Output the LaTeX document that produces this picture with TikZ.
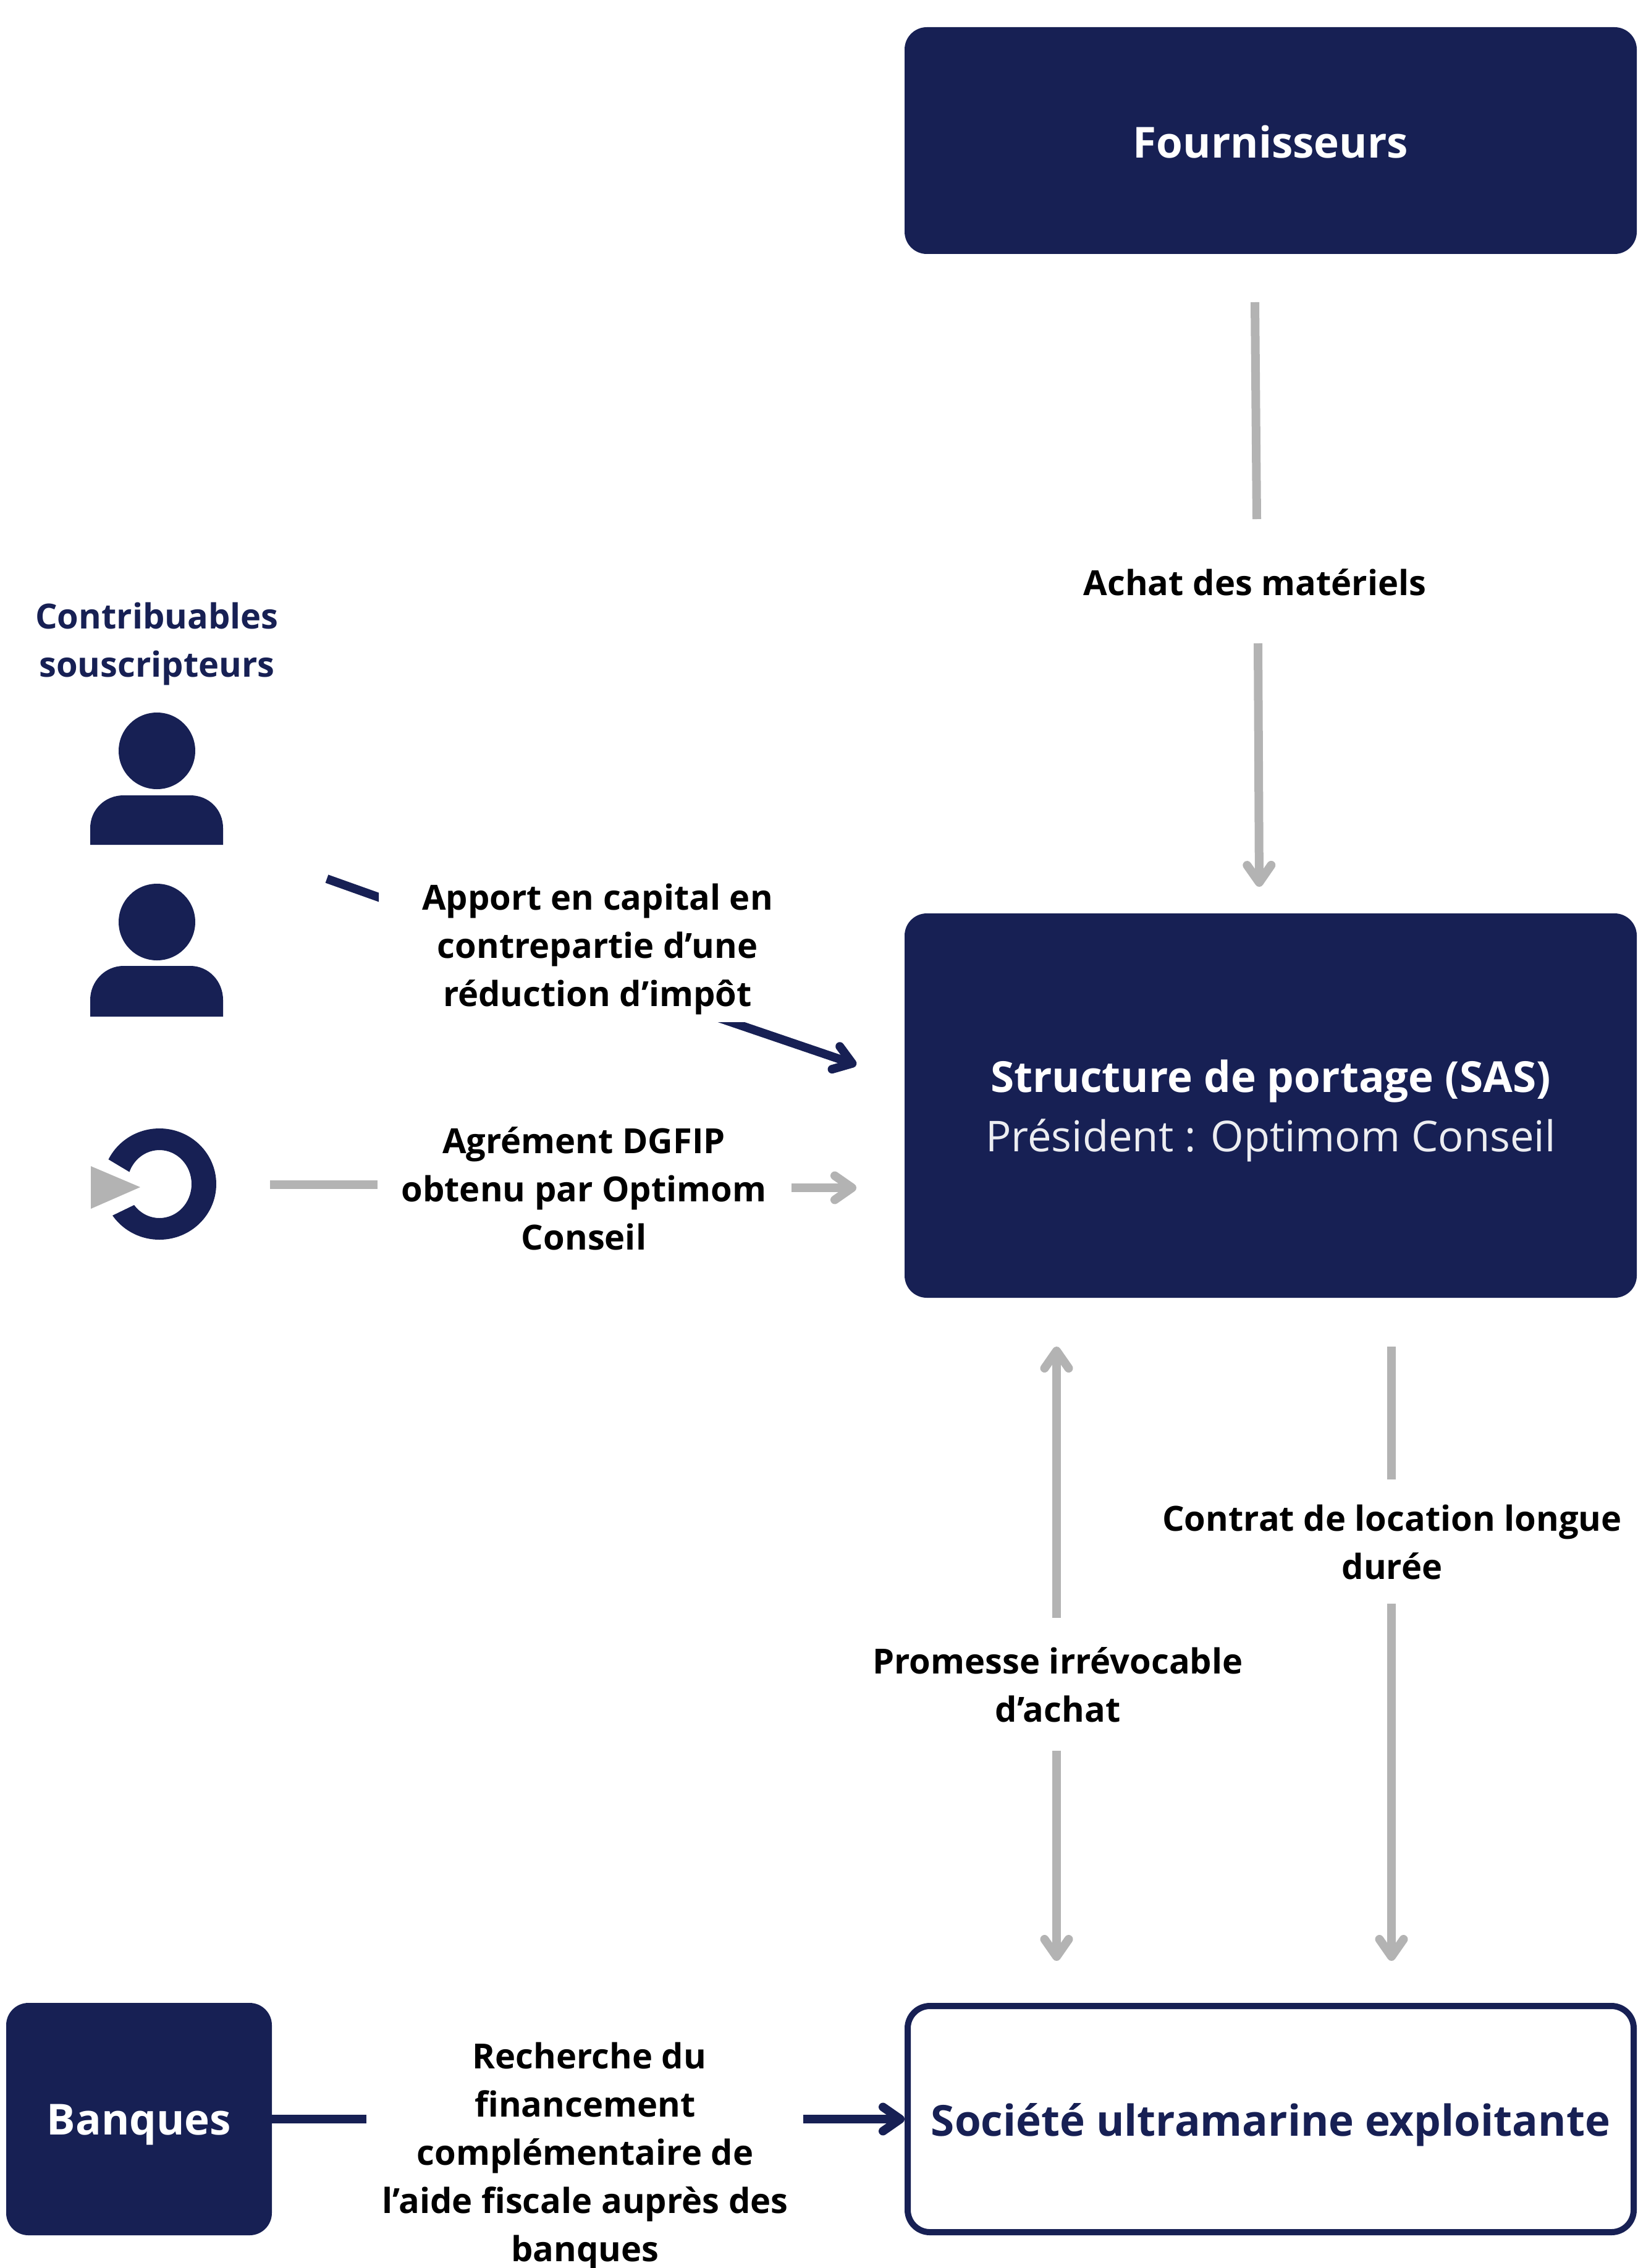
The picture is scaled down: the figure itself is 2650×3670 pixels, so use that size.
\documentclass[tikz,border=0pt]{standalone}
\usepackage{fontspec}
\setmainfont{Open Sans}
\usetikzlibrary{arrows.meta}
\definecolor{navy}{HTML}{172054}
\definecolor{greyline}{HTML}{B3B3B3}
\newcommand{\lowertext}[2]{\raisebox{-#1}[\height][\depth]{#2}}
\tikzset{
  x=0.5pt,y=-0.5pt,
  navybox/.style={fill=navy,draw=none,rounded corners=18pt,text=white,align=center,font=\bfseries\fontsize{34.6}{48}\selectfont,inner sep=0pt},
  whitebox/.style={fill=white,draw=navy,line width=5pt,rounded corners=18pt,text=navy,align=center,font=\bfseries\fontsize{34.6}{48}\selectfont,inner sep=0pt},
  lbl/.style={align=center,text=black,font=\bfseries\fontsize{28}{39}\selectfont,inner sep=0pt},
  greyseg/.style={draw=greyline,line width=7pt},
  navyseg/.style={draw=navy,line width=7pt},
  greytip/.style={-{Straight Barb[length=14pt,width=19.5pt,round]}},
  glyph/.style={fill=navy,draw=none},
}
\begin{document}
\begin{tikzpicture}
\useasboundingbox (0,0) rectangle (2650,3670);
% boxes
\node[navybox,minimum width=592.5pt,minimum height=183.5pt] (fourn) at (2056.5,227.5) {\lowertext{1.2pt}{Fournisseurs}};
\node[navybox,minimum width=592.5pt,minimum height=311pt] (sas) at (2056.5,1789)
  {\lowertext{4pt}{Structure de portage (SAS)}\\[0pt]\lowertext{4pt}{\mdseries\fontsize{34.4}{48}\selectfont\color{white!92!navy}Président : Optimom Conseil}};
\node[whitebox,minimum width=587.5pt,minimum height=183pt] (soc) at (2056.5,3429) {\lowertext{4.5pt}{Société ultramarine exploitante}};
\node[navybox,minimum width=215pt,minimum height=188pt] (bq) at (225,3429) {\lowertext{4.5pt}{Banques}};
% labels
\node[lbl,text=navy] (contrib) at (254,1042) {Contribuables\\souscripteurs};
\node[lbl] (apport) at (967,1536) {Apport en capital en\\contrepartie d’une\\réduction d’impôt};
\node[lbl] (agrement) at (945,1923) {Agrément DGFIP\\obtenu par Optimom\\Conseil};
\node[lbl] (achat) at (2031,942) {Achat des matériels};
\node[lbl] (contrat) at (2253,2495) {Contrat de location longue\\durée};
\node[lbl] (promesse) at (1712,2726) {Promesse irrévocable\\d’achat};
\node[lbl] (recherche) at (947,3489) {\hspace*{7pt}Recherche du\\financement\\complémentaire de\\l’aide fiscale auprès des\\banques};
% person icons
\fill[glyph] (254,1215) ellipse (62 and 62);
\fill[glyph] (146,1367) -- (146,1340) .. controls (146,1310) and (170,1287) .. (200,1287) -- (308,1287) .. controls (338,1287) and (361,1310) .. (361,1340) -- (361,1367) -- cycle;
\fill[glyph] (254,1492) ellipse (62 and 62);
\fill[glyph] (146,1645) -- (146,1618) .. controls (146,1588) and (170,1563) .. (200,1563) -- (308,1563) .. controls (338,1563) and (361,1588) .. (361,1618) -- (361,1645) -- cycle;
% logo
\fill[navy,even odd rule] (258,1916) ellipse (92 and 90) (258,1916) ellipse (52 and 55);
\fill[white] (262,1928) -- (165,1870) -- (140,1916) -- (165,1975) -- cycle;
\fill[greyline] (147,1887) -- (227,1921) -- (147,1956) -- cycle;
% connector ends
\coordinate (a1) at (2031,489); \coordinate (a2) at (2034,840);
\coordinate (a3) at (2036,1041); \coordinate (a4) at (2038,1435);
\coordinate (b1) at (529,1422); \coordinate (b2) at (630,1458);
\coordinate (b3) at (1160,1646); \coordinate (b4) at (1386,1723);
\coordinate (c1) at (437,1917); \coordinate (c2) at (611,1917);
\coordinate (c3) at (1281,1922); \coordinate (c4) at (1386,1922);
\coordinate (d1) at (1710,2618); \coordinate (d2) at (1710,2179);
\coordinate (d3) at (1710,2833); \coordinate (d4) at (1710,3173);
\coordinate (e1) at (2252,2179); \coordinate (e2) at (2252,2394);
\coordinate (e3) at (2252,2595); \coordinate (e4) at (2252,3173);
\coordinate (f2) at (593,3429);
\coordinate (f3) at (1300,3429);
% connectors
\draw[greyseg] (a1) -- (a2);
\draw[greyseg,greytip] (a3) -- (a4);
\begin{scope}
  \clip (500,1400) rectangle (613,1500);
  \draw[navyseg] (b1) -- (b2);
\end{scope}
\begin{scope}
  \clip (1100,1654) rectangle (1450,1800);
  \draw[navyseg,greytip] (b3) -- (b4);
\end{scope}
\draw[greyseg] (c1) -- (c2);
\draw[greyseg,greytip] (c3) -- (c4);
\draw[greyseg,greytip] (d1) -- (d2);
\draw[greyseg,greytip] (d3) -- (d4);
\draw[greyseg] (e1) -- (e2);
\draw[greyseg,greytip] (e3) -- (e4);
\draw[navyseg] (bq.east) -- (f2);
\draw[navyseg,greytip] (f3) -- (soc.west);
\end{tikzpicture}
\end{document}
